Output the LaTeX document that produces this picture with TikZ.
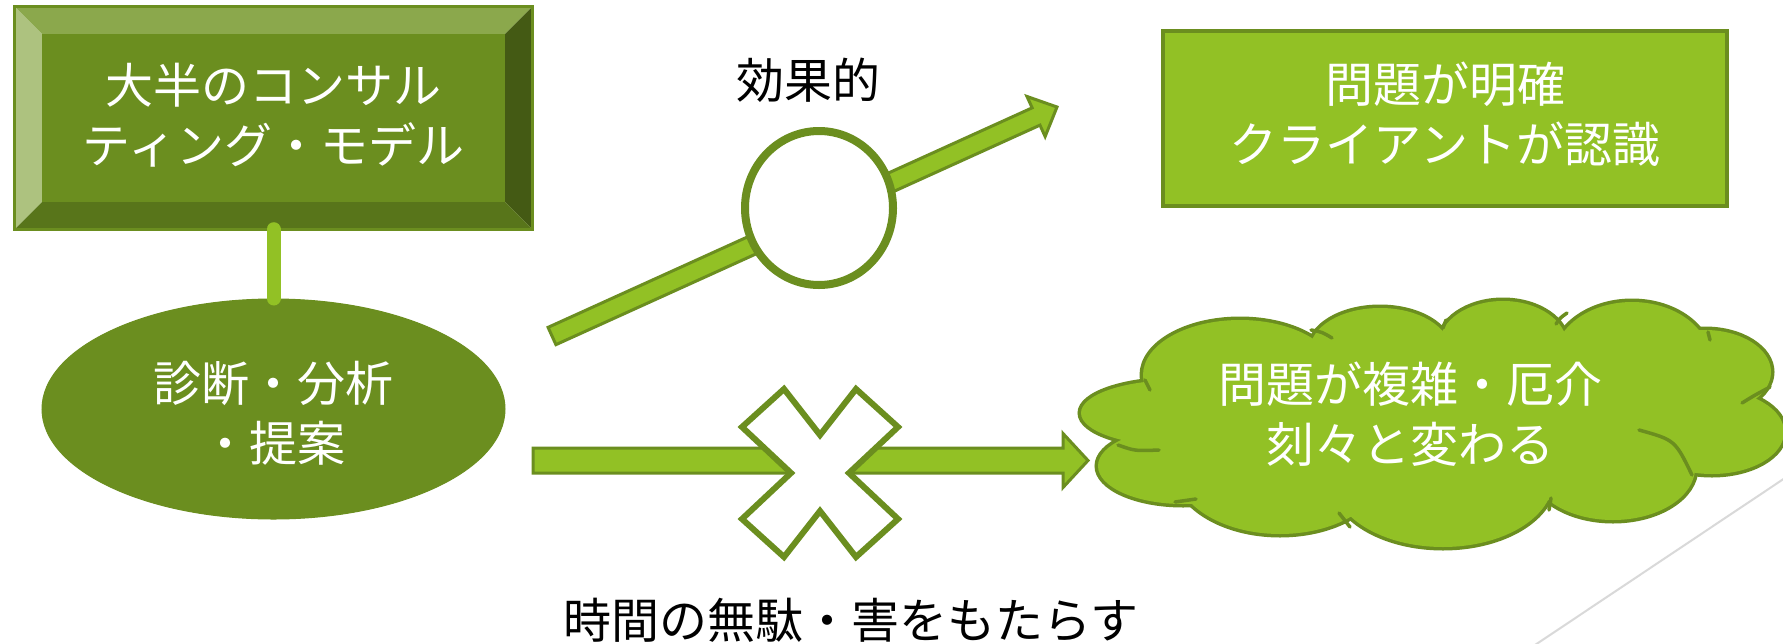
\documentclass[tikz,border=0pt]{standalone}
\usepackage{fontspec}
\setmainfont{Noto Sans CJK JP}
\usetikzlibrary{calc,shapes.geometric}
\definecolor{ogreen}{HTML}{6B8E1F}
\definecolor{ygreen}{HTML}{92C125}
\definecolor{bevtop}{HTML}{8BA84C}
\definecolor{bevleft}{HTML}{ADC27F}
\definecolor{bevright}{HTML}{445A14}
\definecolor{bevbot}{HTML}{58751A}
\definecolor{thingray}{HTML}{D9D9D9}
\begin{document}
\begin{tikzpicture}[x=1pt,y=-1pt,
  jp/.style={font=\fontsize{48}{60}\selectfont, align=center, inner sep=0pt},
  wtext/.style={jp, text=white},
  btext/.style={jp, text=black},
  blockarrow/.style={fill=ygreen, draw=ogreen, line width=3pt, line join=miter},
  xmark/.style={fill=white, draw=ogreen, line width=6pt, line join=miter},
  cloudlobe/.style={fill=ygreen, draw=ogreen, line width=7pt},
  cloudfill/.style={fill=ygreen},
  cloudarc/.style={draw=ogreen, line width=3.5pt, line cap=round},
]
\fill[white] (0,0) rectangle (1783,643);
\useasboundingbox (0,0) rectangle (1783,643);

% thin gray line bottom right
\coordinate (g1) at (1535,645);
\coordinate (g2) at (1785,478);
\draw[thingray, line width=2pt] (g1) -- (g2);

% bevel box
\node[minimum width=517pt, minimum height=222pt, inner sep=0pt] (model) at (273.5,118) {};
\fill[bevtop] (model.north west) -- (model.north east) -- ($(model.north east)+(-27,27)$) -- ($(model.north west)+(27,27)$) -- cycle;
\fill[bevleft] (model.north west) -- ($(model.north west)+(27,27)$) -- ($(model.south west)+(27,-27)$) -- (model.south west) -- cycle;
\fill[bevright] (model.north east) -- (model.south east) -- ($(model.south east)+(-27,-27)$) -- ($(model.north east)+(-27,27)$) -- cycle;
\fill[bevbot] (model.south west) -- ($(model.south west)+(27,-27)$) -- ($(model.south east)+(-27,-27)$) -- (model.south east) -- cycle;
\fill[ogreen] ($(model.north west)+(27,27)$) rectangle ($(model.south east)+(-27,-27)$);
\draw[ogreen, line width=3pt] (model.north west) rectangle (model.south east);
\node[wtext] (modeltxt) at (273.5,115) {大半のコンサル\\ティング・モデル};

% ellipse
\node[ellipse, fill=ogreen, draw=ogreen, line width=1pt, minimum width=463pt, minimum height=220pt, inner sep=0pt] (diag) at (273.5,409) {};
\node[wtext] (diagtxt) at (273.5,413) {診断・分析\\・提案};

% connector
\draw[ygreen, line width=14pt, line cap=round] (model.south) -- (diag.north);

% diagonal block arrow
\coordinate (d1) at (552,336);
\coordinate (d2) at (1057,107);
\coordinate (dc) at ($(d2)!23pt!(d1)$);
\draw[blockarrow] ($(d1)!9.5pt!90:(d2)$) -- ($(dc)!9.5pt!-90:(d1)$) -- ($(dc)!22pt!-90:(d1)$) -- (d2)
  -- ($(dc)!22pt!90:(d1)$) -- ($(dc)!9.5pt!90:(d1)$) -- ($(d1)!9.5pt!-90:(d2)$) -- cycle;
\node[ellipse, fill=white, draw=ogreen, line width=8pt, minimum width=148pt, minimum height=154pt, inner sep=0pt] (eff) at (819,208) {};
\node[btext] (efftxt) at (808,80) {効果的};

% horizontal block arrow
\coordinate (h1) at (533,460.5);
\coordinate (h2) at (1088,460.5);
\draw[blockarrow] ($(h1)+(0,-12.5)$) -- ($(h2)+(-25,-12.5)$) -- ($(h2)+(-25,-27)$) -- (h2)
  -- ($(h2)+(-25,27)$) -- ($(h2)+(-25,12.5)$) -- ($(h1)+(0,12.5)$) -- cycle;
\coordinate (xc) at (820,473);
\draw[xmark] ($(xc)+(-36,-84)$) -- ($(xc)+(0,-38)$) -- ($(xc)+(36,-84)$) -- ($(xc)+(78,-46)$)
  -- ($(xc)+(29,0)$) -- ($(xc)+(78,46)$) -- ($(xc)+(36,84)$) -- ($(xc)+(0,38)$)
  -- ($(xc)+(-36,84)$) -- ($(xc)+(-78,46)$) -- ($(xc)+(-29,0)$) -- ($(xc)+(-78,-46)$) -- cycle;
\node[btext] (wastetxt) at (851,620) {時間の無駄・害をもたらす};

% top-right rectangle
\node[draw=ogreen, fill=ygreen, line width=4pt, minimum width=564pt, minimum height=175pt, inner sep=0pt] (clear) at (1445,118.5) {};
\node[wtext] (cleartxt) at (1445,114) {問題が明確\\クライアントが認識};

% cloud
\foreach \cx/\cy/\rx/\ry in {1240/375/97/55, 1380/350/70/42, 1503/345/64/44, 1632/360/78/58,
  1705/372/66/42, 1712/432/72/42, 1613/468/82/52, 1443/480/110/67, 1280/468/105/66,
  1183/466/85/38, 1178/413/97/33, 1430/420/240/85}
  \draw[cloudlobe] (\cx,\cy) ellipse ({\rx pt} and {\ry pt});
\foreach \cx/\cy/\rx/\ry in {1240/375/97/55, 1380/350/70/42, 1503/345/64/44, 1632/360/78/58,
  1705/372/66/42, 1712/432/72/42, 1613/468/82/52, 1443/480/110/67, 1280/468/105/66,
  1183/466/85/38, 1178/413/97/33, 1430/420/240/85}
  \fill[cloudfill] (\cx,\cy) ellipse ({\rx pt} and {\ry pt});
\draw[cloudarc] (1118,445) .. controls (1135,451) .. (1159,450);
\draw[cloudarc] (1175,502) -- (1196,499);
\draw[cloudarc] (1311,330) .. controls (1322,332) .. (1332,338);
\draw[cloudarc] (1443,328) -- (1446,320);
\draw[cloudarc] (1556,324) .. controls (1560,318) .. (1567,313);
\draw[cloudarc] (1708,332) -- (1710,340);
\draw[cloudarc] (1742,403) .. controls (1755,395) .. (1770,387);
\draw[cloudarc] (1639,430) .. controls (1675,440) .. (1692,475);
\draw[cloudarc] (1551,498) -- (1549,510);
\draw[cloudarc] (1339,513) -- (1350,527);
\draw[cloudarc] (1145,380) -- (1150,390);
\coordinate (cloud) at (1410,414);
\node[wtext] (cloudtxt) at (cloud) {問題が複雑・厄介\\刻々と変わる};
\end{tikzpicture}
\end{document}
